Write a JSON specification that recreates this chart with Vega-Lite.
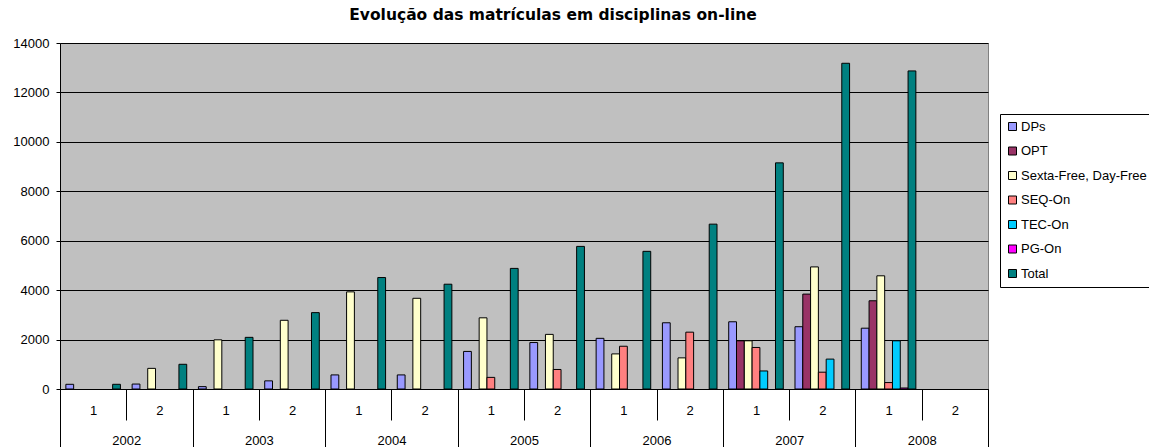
{
  "$schema": "https://vega.github.io/schema/vega-lite/v6.json",
  "width": 928,
  "height": 346,
  "autosize": {"type": "none"},
  "padding": {"left": 60, "top": 43, "right": 161, "bottom": 58},
  "background": "white",
  "config": {
    "font": "Liberation Sans",
    "view": {"fill": "#C0C0C0", "stroke": "#808080", "strokeWidth": 1}
  },
  "title": {
    "text": "Evolução das matrículas em disciplinas on-line",
    "fontSize": 15.5,
    "fontWeight": "bold",
    "font": "DejaVu Sans",
    "color": "black",
    "anchor": "middle",
    "frame": "group",
    "dx": 29,
    "offset": 14
  },
  "data": {
    "values": [
      {"period": "2002-1", "series": "DPs", "value": 190},
      {"period": "2002-1", "series": "Total", "value": 190},
      {"period": "2002-2", "series": "DPs", "value": 200},
      {"period": "2002-2", "series": "Sexta-Free, Day-Free", "value": 835},
      {"period": "2002-2", "series": "Total", "value": 1000},
      {"period": "2003-1", "series": "DPs", "value": 96},
      {"period": "2003-1", "series": "Sexta-Free, Day-Free", "value": 1990},
      {"period": "2003-1", "series": "Total", "value": 2090},
      {"period": "2003-2", "series": "DPs", "value": 330},
      {"period": "2003-2", "series": "Sexta-Free, Day-Free", "value": 2780},
      {"period": "2003-2", "series": "Total", "value": 3090},
      {"period": "2004-1", "series": "DPs", "value": 570},
      {"period": "2004-1", "series": "Sexta-Free, Day-Free", "value": 3930},
      {"period": "2004-1", "series": "Total", "value": 4510},
      {"period": "2004-2", "series": "DPs", "value": 570},
      {"period": "2004-2", "series": "Sexta-Free, Day-Free", "value": 3670},
      {"period": "2004-2", "series": "Total", "value": 4240},
      {"period": "2005-1", "series": "DPs", "value": 1520},
      {"period": "2005-1", "series": "Sexta-Free, Day-Free", "value": 2880},
      {"period": "2005-1", "series": "SEQ-On", "value": 470},
      {"period": "2005-1", "series": "Total", "value": 4880},
      {"period": "2005-2", "series": "DPs", "value": 1880},
      {"period": "2005-2", "series": "Sexta-Free, Day-Free", "value": 2210},
      {"period": "2005-2", "series": "SEQ-On", "value": 790},
      {"period": "2005-2", "series": "Total", "value": 5770},
      {"period": "2006-1", "series": "DPs", "value": 2050},
      {"period": "2006-1", "series": "Sexta-Free, Day-Free", "value": 1420},
      {"period": "2006-1", "series": "SEQ-On", "value": 1730},
      {"period": "2006-1", "series": "Total", "value": 5570},
      {"period": "2006-2", "series": "DPs", "value": 2680},
      {"period": "2006-2", "series": "Sexta-Free, Day-Free", "value": 1260},
      {"period": "2006-2", "series": "SEQ-On", "value": 2300},
      {"period": "2006-2", "series": "Total", "value": 6670},
      {"period": "2007-1", "series": "DPs", "value": 2720},
      {"period": "2007-1", "series": "OPT", "value": 1950},
      {"period": "2007-1", "series": "Sexta-Free, Day-Free", "value": 1950},
      {"period": "2007-1", "series": "SEQ-On", "value": 1680},
      {"period": "2007-1", "series": "TEC-On", "value": 730},
      {"period": "2007-1", "series": "Total", "value": 9150},
      {"period": "2007-2", "series": "DPs", "value": 2520},
      {"period": "2007-2", "series": "OPT", "value": 3840},
      {"period": "2007-2", "series": "Sexta-Free, Day-Free", "value": 4940},
      {"period": "2007-2", "series": "SEQ-On", "value": 680},
      {"period": "2007-2", "series": "TEC-On", "value": 1210},
      {"period": "2007-2", "series": "Total", "value": 13180},
      {"period": "2008-1", "series": "DPs", "value": 2460},
      {"period": "2008-1", "series": "OPT", "value": 3570},
      {"period": "2008-1", "series": "Sexta-Free, Day-Free", "value": 4580},
      {"period": "2008-1", "series": "SEQ-On", "value": 260},
      {"period": "2008-1", "series": "TEC-On", "value": 1950},
      {"period": "2008-1", "series": "PG-On", "value": 40},
      {"period": "2008-1", "series": "Total", "value": 12870}
    ]
  },
  "layer": [
    {
      "mark": {"type": "bar", "stroke": "black", "strokeWidth": 1, "opacity": 1},
      "encoding": {
        "x": {
          "field": "period",
          "type": "nominal",
          "scale": {
            "domain": ["2002-1","2002-2","2003-1","2003-2","2004-1","2004-2","2005-1","2005-2","2006-1","2006-2","2007-1","2007-2","2008-1","2008-2"],
            "paddingInner": 0,
            "paddingOuter": 0
          },
          "axis": {
            "orient": "bottom",
            "title": null,
            "tickBand": "extent",
            "labelAngle": 0,
            "labelExpr": "datum.label ? substring(datum.label, 5, 6) : ''",
            "labelPadding": -16,
            "labelFontSize": 13,
            "labelColor": "black",
            "tickSize": 31,
            "tickColor": "black",
            "domainColor": "black",
            "grid": false
          }
        },
        "xOffset": {
          "field": "series",
          "type": "nominal",
          "scale": {
            "domain": ["DPs","OPT","Sexta-Free, Day-Free","SEQ-On","TEC-On","PG-On","Total"],
            "paddingInner": 0,
            "paddingOuter": 0.75
          }
        },
        "y": {
          "field": "value",
          "type": "quantitative",
          "scale": {"domain": [0, 14000], "nice": false},
          "axis": {
            "title": null,
            "values": [0,2000,4000,6000,8000,10000,12000,14000],
            "format": "d",
            "grid": true,
            "gridColor": "black",
            "gridOpacity": 1,
            "domainColor": "black",
            "tickColor": "black",
            "tickSize": 4,
            "labelPadding": 7,
            "labelFontSize": 13,
            "labelColor": "black"
          }
        },
        "color": {
          "field": "series",
          "type": "nominal",
          "scale": {
            "domain": ["DPs","OPT","Sexta-Free, Day-Free","SEQ-On","TEC-On","PG-On","Total"],
            "range": ["#9999FF","#993366","#FFFFCC","#FF8080","#00CCFF","#FF00FF","#008080"]
          },
          "legend": {
            "orient": "none",
            "legendX": 940,
            "legendY": 71,
            "title": null,
            "symbolType": "square",
            "symbolSize": 64,
            "symbolStrokeColor": "black",
            "symbolStrokeWidth": 1,
            "symbolOpacity": 1,
            "labelFontSize": 13,
            "labelColor": "black",
            "labelLimit": 300,
            "labelOffset": 2,
            "rowPadding": 10.5,
            "padding": 6,
            "strokeColor": "black",
            "fillColor": "white"
          }
        }
      }
    },
    {
      "mark": {"type": "rule", "opacity": 0},
      "encoding": {
        "x": {
          "field": "period",
          "type": "nominal",
          "axis": {
            "orient": "bottom",
            "title": null,
            "tickBand": "extent",
            "labelAngle": 0,
            "labelExpr": "datum.label && substring(datum.label, 5, 6) == '1' ? substring(datum.label, 0, 4) : ''",
            "labelOffset": 33.14,
            "labelPadding": -13,
            "labelFontSize": 13,
            "labelColor": "black",
            "tickSize": 58,
            "tickColor": "black",
            "tickOpacity": {"condition": {"test": "!datum.label || substring(datum.label, 5, 6) == '2'", "value": 1}, "value": 0},
            "domain": false,
            "grid": false
          }
        }
      }
    }
  ],
  "resolve": {"axis": {"x": "independent"}}
}
